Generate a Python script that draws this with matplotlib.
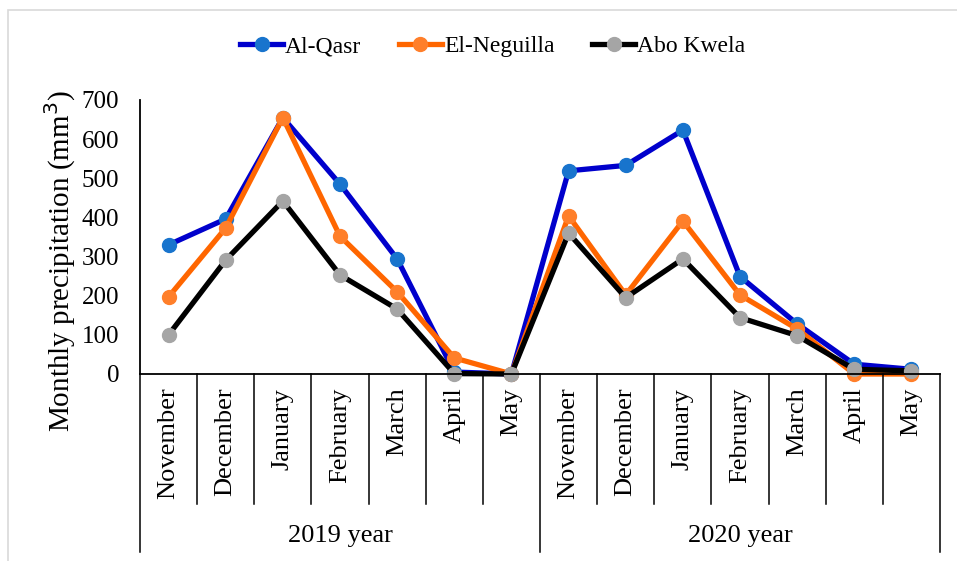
import matplotlib
matplotlib.use("Agg")
import matplotlib.pyplot as plt
from matplotlib.patches import Rectangle

# Data
months = ["November", "December", "January", "February", "March", "April", "May"]
years = ["2019 year", "2020 year"]
al_qasr = [330, 396, 655, 485, 294, 5, 0, 519, 533, 623, 249, 128, 25, 12]
el_neguilla = [197, 373, 655, 352, 210, 41, 0, 404, 202, 391, 202, 115, 0, 0]
abo_kwela = [100, 291, 442, 253, 166, 1, 0, 360, 195, 294, 144, 98, 12, 8]

plt.rcParams['font.family'] = ['Liberation Serif', 'DejaVu Serif']

fig = plt.figure(figsize=(9.57, 5.61), dpi=100)
ax = fig.add_axes([140 / 957, 187 / 561, 800 / 957, 274 / 561])

# light grey frame around chart
fig.patches.append(Rectangle((8 / 957, -0.1), 1.2, (561 - 10) / 561 + 0.1,
                             transform=fig.transFigure, fill=False,
                             edgecolor='#D9D9D9', linewidth=1.2))

x = list(range(len(al_qasr)))
ax.plot(x, al_qasr, color='#0000CC', lw=3.8, marker='o', ms=10,
        mfc='#1874CD', mec='#1874CD', label='Al-Qasr', clip_on=False)
ax.plot(x, el_neguilla, color='#FF6600', lw=3.8, marker='o', ms=10,
        mfc='#FF7F2A', mec='#FF7F2A', label='El-Neguilla', clip_on=False)
ax.plot(x, abo_kwela, color='black', lw=3.8, marker='o', ms=10,
        mfc='#A5A5A5', mec='#A5A5A5', label='Abo Kwela', clip_on=False)

ax.set_xlim(-0.5, len(x) - 0.5)
ax.set_ylim(0, 700)
ax.set_yticks(range(0, 701, 100))
ax.tick_params(axis='y', length=0, labelsize=18, pad=15)
ax.set_xticks([])
ax.spines['top'].set_visible(False)
ax.spines['right'].set_visible(False)
ax.spines['left'].set_linewidth(1.3)
ax.spines['bottom'].set_linewidth(1.3)
ax.set_ylabel('Monthly precipitation (mm$^3$)', fontsize=21)
ax.yaxis.set_label_coords(-0.078, 0.41)

# category axis: month labels, separators, year labels
n = len(x)
for i in range(n + 1):
    xf = i / n
    bottom = -0.65 if i % 7 == 0 else -0.475
    ax.plot([xf, xf], [0, bottom], transform=ax.transAxes, color='black',
            lw=1.1, clip_on=False)
for i in range(n):
    ax.text(i, -0.05, months[i % 7], transform=ax.get_xaxis_transform(),
            rotation=90, ha='center', va='top', fontsize=19)
for j, yr in enumerate(years):
    ax.text((j + 0.5) / 2, -0.59, yr, transform=ax.transAxes,
            ha='center', va='center', fontsize=19)

fig.legend(loc='center', bbox_to_anchor=(0.515, 0.917), ncol=3, frameon=False,
           fontsize=17, handlelength=1.8, columnspacing=1.6, handletextpad=0.1)

fig.savefig('out.png', dpi=100)
